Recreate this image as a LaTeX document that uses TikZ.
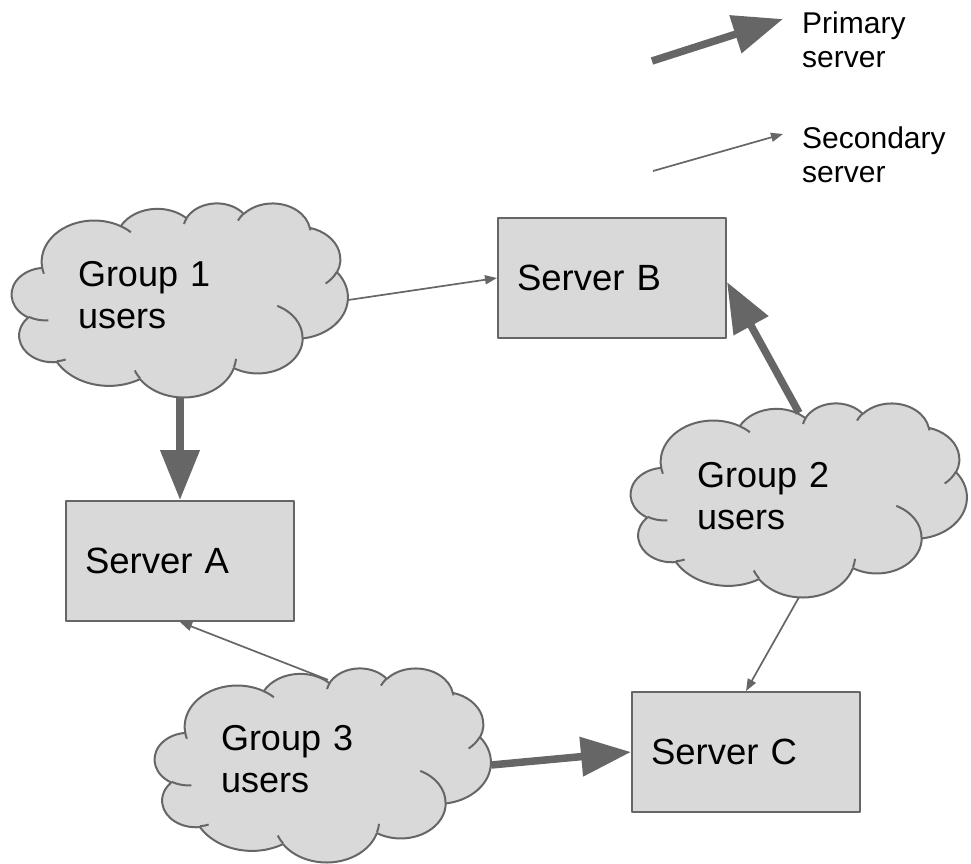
\documentclass[tikz,border=0pt]{standalone}
\usepackage{fontspec}
\setmainfont{Liberation Sans}
\usetikzlibrary{arrows.meta}
\definecolor{linegray}{HTML}{666666}
\definecolor{shapegray}{HTML}{D9D9D9}

\newcommand\drawcloud[1]{%
\begin{scope}[shift={(#1.north west)},x=3.36pt,y=-1.94pt]
\filldraw[cloudline,fill=shapegray]
 (9.028,33.264)
 arc[start angle=-187.75,end angle=-59.64,x radius=15.632,y radius=21.273]
 arc[start angle=-152.04,end angle=-45.47,x radius=12.345,y radius=16.822]
 arc[start angle=-153.48,end angle=-37.33,x radius=10.104,y radius=13.762]
 arc[start angle=-139.72,end angle=-10.21,x radius=11.243,y radius=15.266]
 arc[start angle=-74.77,end angle=23.21,x radius=12.345,y radius=16.836]
 arc[start angle=-37.53,end angle=81.86,x radius=15.683,y radius=21.343]
 arc[start angle=0.46,end angle=121.99,x radius=13.391,y radius=18.211]
 arc[start angle=16.84,end angle=146.21,x radius=15.630,y radius=21.331]
 arc[start angle=58.99,end angle=150.20,x radius=17.870,y radius=24.405]
 arc[start angle=-276.69,end angle=-136.88,x radius=10.093,y radius=13.699]
 arc[start angle=-239.64,end angle=-95.89,x radius=10.058,y radius=13.762]
 -- cycle;
\draw[cloudline]
 (10.863,60.595) arc[start angle=85.55,end angle=120.36,x radius=10.058,y radius=13.762]
 (16.037,80.785) arc[start angle=68.24,end angle=83.31,x radius=10.093,y radius=13.699]
 (38.144,90.486) arc[start angle=146.21,end angle=158.47,x radius=15.630,y radius=21.331]
 (66.729,80.442) arc[start angle=4.74,end angle=16.84,x radius=15.630,y radius=21.331]
 (79.002,53.134) arc[start angle=-64.03,end angle=0.46,x radius=13.391,y radius=18.211]
 (96.755,35.542) arc[start angle=24.01,end angle=50,x radius=12.345,y radius=16.836]
 (88.713,12.560) arc[start angle=-10.21,end angle=-4,x radius=11.243,y radius=15.266]
 (67.310,9.148) arc[start angle=-155.28,end angle=-139.72,x radius=11.243,y radius=15.266]
 (51.252,10.926) arc[start angle=-166.67,end angle=-153.48,x radius=10.104,y radius=13.762]
 (32.407,12.019) arc[start angle=-59.64,end angle=-45.6,x radius=15.632,y radius=21.273]
 (9.553,36.549) arc[start angle=163.18,end angle=172.25,x radius=15.632,y radius=21.273];
\end{scope}}

\begin{document}
\begin{tikzpicture}[x=1pt,y=-1pt,line join=round,
  cloudline/.style={draw=linegray,line width=2pt},
  cloudarea/.style={rectangle,minimum width=336pt,minimum height=194pt,inner sep=0pt},
  cloudtext/.style={anchor=north west,inner sep=0pt,text width=220pt,align=left,
    font=\fontsize{36}{42}\selectfont},
  serverbox/.style={draw=linegray,fill=shapegray,line width=2pt,minimum width=228pt,
    minimum height=120pt,text width=190pt,inner xsep=19pt,inner ysep=0pt,align=left,
    font=\fontsize{36.5}{42}\selectfont},
  legendtext/.style={anchor=north west,inner sep=0pt,text width=165pt,align=left,
    font=\fontsize{30}{34}\selectfont},
  primaryarrow/.style={draw=linegray,color=linegray,line width=7.5pt,
    -{Triangle[length=50pt,width=38pt]}},
  secondaryarrow/.style={draw=linegray,color=linegray,line width=1.7pt,
    -{Triangle[length=12pt,width=9pt]}}]
\useasboundingbox (0,0) rectangle (971,863);

% cloud areas
\node[cloudarea] (g1) at (180,300) {};
\node[cloudarea] (g2) at (799,500) {};
\node[cloudarea] (g3) at (323,765) {};
\drawcloud{g1}
\drawcloud{g2}
\drawcloud{g3}
\node[cloudtext] (t1) at ([shift={(66pt,-58pt)}]g1.north west) {Group 1\\users};
\node[cloudtext] (t2) at ([shift={(66pt,-59pt)}]g2.north west) {Group 2\\users};
\node[cloudtext] (t3) at ([shift={(66pt,-57pt)}]g3.north west) {Group 3\\users};

% servers
\node[serverbox] (sa) at (180,561) {Server A};
\node[serverbox] (sb) at (612,278) {Server B};
\node[serverbox] (sc) at (746,752) {Server C};

% connectors
\draw[secondaryarrow] (g1.east) -- (sb.west);
\draw[primaryarrow] (g1.south) -- (sa.north);
\draw[primaryarrow] ([yshift=-10pt]g2.north) -- ([yshift=-4pt]sb.east);
\draw[secondaryarrow] (g2.south) -- (sc.north);
\draw[secondaryarrow] ([shift={(5pt,-12pt)}]g3.north) -- (sa.south);
\draw[primaryarrow] (g3.east) -- (sc.west);

% legend
\coordinate (prA) at (652,61);
\coordinate (prB) at (783,19);
\coordinate (seA) at (653,171);
\coordinate (seB) at (783,134);
\draw[primaryarrow] (prA) -- (prB);
\draw[secondaryarrow] (seA) -- (seB);
\node[legendtext] (lp) at (802,12) {Primary\\server};
\node[legendtext] (ls) at (802,127) {Secondary\\server};
\end{tikzpicture}
\end{document}
